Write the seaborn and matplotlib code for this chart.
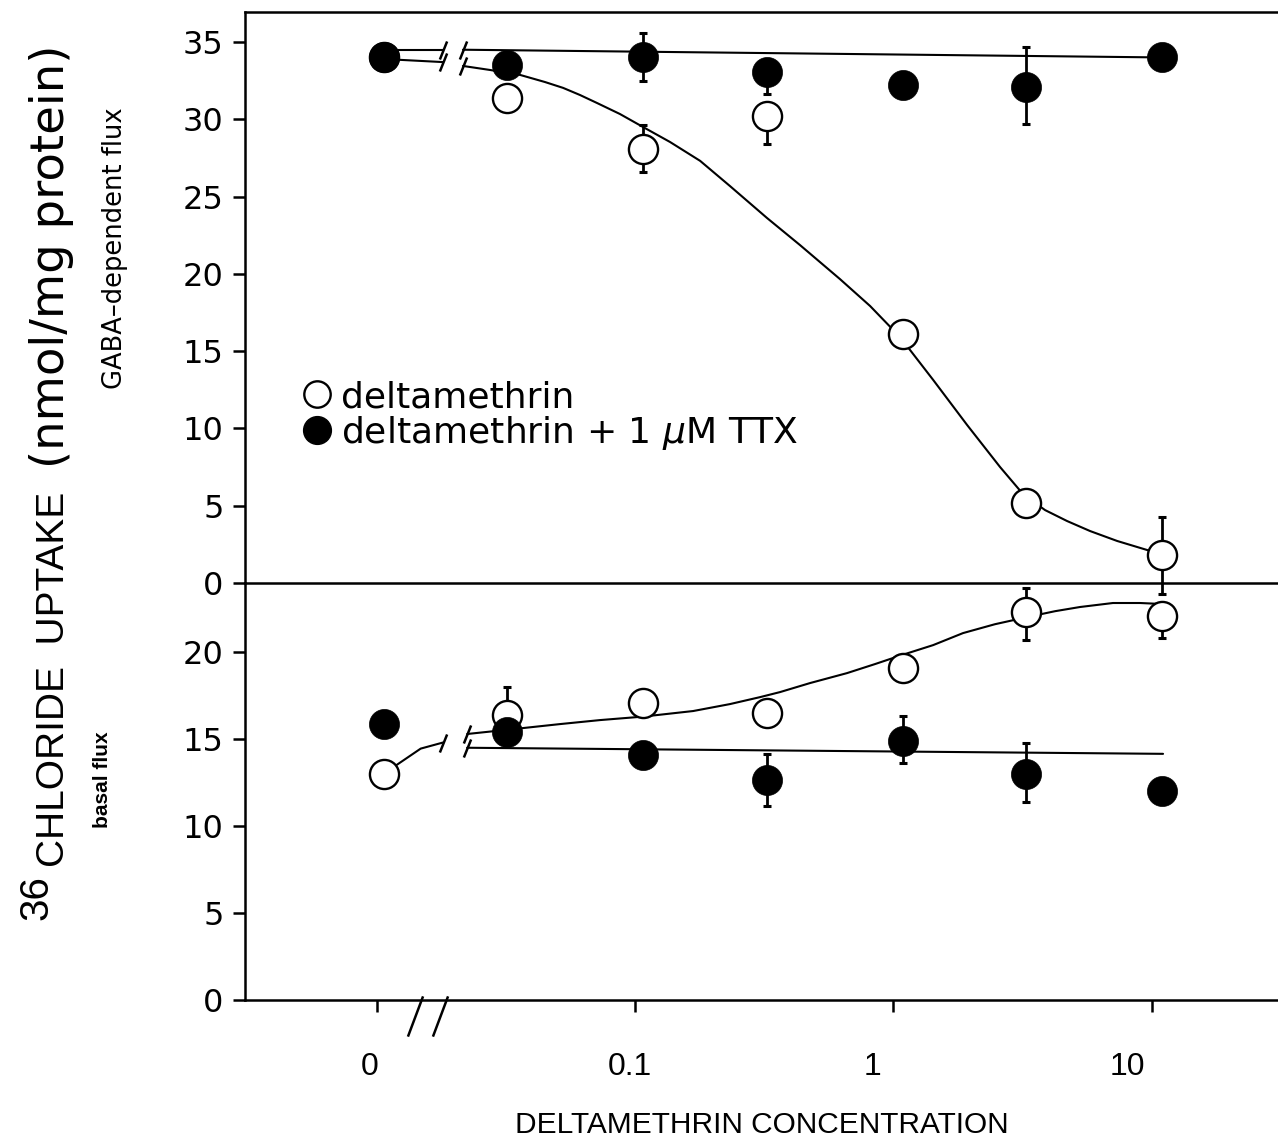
import numpy as np
import pandas as pd
import matplotlib
matplotlib.use("Agg")
import matplotlib.pyplot as plt
import matplotlib.transforms as mtrans
from matplotlib.lines import Line2D
import seaborn as sns

# ---------------- data ----------------
conc = [0, 0.03, 0.1, 0.3, 1, 3, 10]           # deltamethrin concentration
ZERO_POS = -2.0                                  # where "0" sits on the log axis

gaba_delta = [34.0, 31.4, 28.1, 30.2, 16.1, 5.2, 1.8]
gaba_delta_lo = [0, 0, 1.5, 1.8, 0, 0, 2.5]
gaba_delta_hi = [0, 0, 1.5, 0, 0, 0, 2.5]
gaba_ttx = [34.0, 33.5, 34.0, 33.05, 32.2, 32.1, 34.0]
gaba_ttx_lo = [0, 0, 1.5, 1.4, 0, 2.4, 0]
gaba_ttx_hi = [0, 0, 1.6, 0, 0, 2.6, 0]

basal_delta = [13.0, 16.4, 17.1, 16.5, 19.1, 22.3, 22.1]
basal_delta_lo = [0, 0, 0, 0, 0, 1.6, 1.3]
basal_delta_hi = [0, 1.6, 0, 0, 0, 1.4, 0]
basal_ttx = [15.85, 15.4, 14.1, 12.65, 14.9, 13.0, 12.0]
basal_ttx_lo = [0, 0, 0, 1.5, 1.3, 1.6, 0]
basal_ttx_hi = [0, 0, 0, 1.5, 1.4, 1.8, 0]

# fitted curves (log10 concentration, value)
gaba_fit_pre_x = [-2.0, -1.771]
gaba_fit_pre_y = [33.9, 33.7]
gaba_fit_x = [-1.694, -1.590, -1.474, -1.378, -1.308, -1.243, -1.177, -1.089,
              -1.000, -0.896, -0.780, -0.665, -0.522, -0.395, -0.241, -0.125,
              -0.010, 0.118, 0.249, 0.376, 0.464, 0.549, 0.634, 0.723, 0.827, 0.981]
gaba_fit_y = [33.45, 33.19, 32.87, 32.41, 32.03, 31.57, 31.05, 30.34,
              29.50, 28.53, 27.31, 25.68, 23.61, 21.86, 19.66, 17.92,
              15.92, 13.14, 10.22, 7.50, 5.76, 4.72, 4.01, 3.36, 2.72, 1.94]
gaba_ttx_fit_pre_x = [-2.0, -1.771]
gaba_ttx_fit_pre_y = [34.5, 34.5]
gaba_ttx_fit_x = [-1.694, 1.0]
gaba_ttx_fit_y = [34.5, 34.0]

basal_fit_pre_x = [-2.0, -1.857, -1.771]
basal_fit_pre_y = [13.0, 14.45, 14.8]
basal_fit_x = [-1.678, -1.532, -1.320, -1.166, -1.000, -0.807, -0.665, -0.549,
               -0.472, -0.356, -0.214, -0.106, -0.002, 0.118, 0.233, 0.356,
               0.480, 0.588, 0.684, 0.811, 0.915, 1.004]
basal_fit_y = [15.29, 15.52, 15.86, 16.09, 16.29, 16.61, 17.01, 17.41,
               17.70, 18.22, 18.79, 19.31, 19.83, 20.40, 21.09, 21.60,
               22.01, 22.35, 22.59, 22.82, 22.82, 22.76]
basal_ttx_fit_x = [-1.678, 1.004]
basal_ttx_fit_y = [14.5, 14.15]

x_tick_pos = [-2.025, -1.03, -0.035, 0.96]
x_tick_labels = ["0", "0.1", "1", "10"]
x_label_shift_px = [-7, -5, -21, -24]
top_yticks = [0, 5, 10, 15, 20, 25, 30, 35]
bot_yticks = [0, 5, 10, 15, 20]
axis_break_x = [-1.879, -1.783]

# ---------------- figure ----------------
sns.set_theme(style="white")
plt.rcParams["font.family"] = ["DejaVu Sans"]
plt.rcParams["text.color"] = "black"
plt.rcParams["axes.labelcolor"] = "black"
W, H = 1278, 1143
fig = plt.figure(figsize=(W / 100, H / 100), dpi=100)

left = 245 / W
width = 1 - left
ax_top = fig.add_axes([left, 1 - 583 / H, width, (583 - 12) / H])
ax_bot = fig.add_axes([left, 1 - 1000 / H, width, (1000 - 583) / H])
ax_top.set_zorder(2)
ax_top.patch.set_alpha(0)
ax_bot.patch.set_alpha(0)

conc_arr = np.array(conc, dtype=float)
xpos = np.where(conc_arr == 0, ZERO_POS,
                np.log10(np.where(conc_arr == 0, 1, conc_arr)))

MS = 440
LW_EDGE = 1.7
BLACK = "black"


def panel(ax, open_y, open_lo, open_hi, fill_y, fill_lo, fill_hi):
    df_o = pd.DataFrame({"x": xpos, "y": open_y})
    df_f = pd.DataFrame({"x": xpos, "y": fill_y})
    ax.errorbar(xpos, open_y, yerr=[open_lo, open_hi], fmt="none",
                ecolor=BLACK, elinewidth=2.0, capsize=2.8, capthick=2.2,
                zorder=2, clip_on=False)
    ax.errorbar(xpos, fill_y, yerr=[fill_lo, fill_hi], fmt="none",
                ecolor=BLACK, elinewidth=2.0, capsize=2.8, capthick=2.2,
                zorder=2, clip_on=False)
    sns.scatterplot(data=df_o, x="x", y="y", ax=ax, s=MS, marker="o",
                    facecolor="white", edgecolor=BLACK, linewidth=LW_EDGE,
                    zorder=4, clip_on=False, legend=False)
    sns.scatterplot(data=df_f, x="x", y="y", ax=ax, s=MS + 30, marker="o",
                    color=BLACK, edgecolor=BLACK, linewidth=0.5,
                    zorder=5, clip_on=False, legend=False)


def curve(ax, xs, ys):
    sns.lineplot(x=xs, y=ys, ax=ax, color=BLACK, linewidth=1.5, sort=False,
                 estimator=None, zorder=3, legend=False)


SLASH = [(-0.4, -1.0), (0.4, 1.0)]


def slash(ax, x, y, size=13):
    ax.plot([x], [y], linestyle="none", marker=SLASH, markersize=size,
            markeredgewidth=1.8, color=BLACK, zorder=3, clip_on=False)


# top panel: GABA-dependent flux
panel(ax_top, gaba_delta, gaba_delta_lo, gaba_delta_hi,
      gaba_ttx, gaba_ttx_lo, gaba_ttx_hi)
curve(ax_top, gaba_fit_pre_x, gaba_fit_pre_y)
curve(ax_top, gaba_fit_x, gaba_fit_y)
curve(ax_top, gaba_ttx_fit_pre_x, gaba_ttx_fit_pre_y)
curve(ax_top, gaba_ttx_fit_x, gaba_ttx_fit_y)
for xs, ys in [(gaba_fit_pre_x, gaba_fit_pre_y), (gaba_ttx_fit_pre_x, gaba_ttx_fit_pre_y)]:
    slash(ax_top, xs[-1], ys[-1])
for xs, ys in [(gaba_fit_x, gaba_fit_y), (gaba_ttx_fit_x, gaba_ttx_fit_y)]:
    slash(ax_top, xs[0], ys[0])

# bottom panel: basal flux
panel(ax_bot, basal_delta, basal_delta_lo, basal_delta_hi,
      basal_ttx, basal_ttx_lo, basal_ttx_hi)
curve(ax_bot, basal_fit_pre_x, basal_fit_pre_y)
curve(ax_bot, basal_fit_x, basal_fit_y)
curve(ax_bot, basal_ttx_fit_x, basal_ttx_fit_y)
slash(ax_bot, basal_fit_pre_x[-1], basal_fit_pre_y[-1])
slash(ax_bot, basal_fit_x[0], basal_fit_y[0])
slash(ax_bot, basal_ttx_fit_x[0], basal_ttx_fit_y[0])

# axis break on the x axis
for bx in axis_break_x:
    ax_bot.plot([bx], [-0.9], linestyle="none", marker=[(-0.375, -1), (0.375, 1)],
                markersize=29, markeredgewidth=1.8, color=BLACK, clip_on=False,
                zorder=6)

XLIM = (-2.534, 1.447)
for ax in (ax_top, ax_bot):
    ax.set_xlim(*XLIM)
    ax.set_xlabel("")
    ax.set_ylabel("")
    for s in ax.spines.values():
        s.set_linewidth(1.8)
        s.set_color(BLACK)
    ax.spines["right"].set_visible(False)
    ax.tick_params(axis="y", which="both", left=True, direction="out",
                   length=8.5, width=1.8, pad=7, labelsize=23, colors=BLACK)

ax_top.set_ylim(0, 36.94)
ax_top.set_yticks(top_yticks)
ax_top.set_xticks([])
ax_top.spines["top"].set_visible(True)

ax_bot.set_ylim(0, 23.97)
ax_bot.set_yticks(bot_yticks)
ax_bot.spines["top"].set_visible(False)
ax_bot.set_xticks(x_tick_pos)
ax_bot.set_xticklabels(x_tick_labels, family=["Liberation Sans", "DejaVu Sans"],
                       fontsize=23)
ax_bot.tick_params(axis="x", bottom=True, direction="out", length=8.5, width=1.8,
                   pad=29, colors=BLACK)
for lab, dx in zip(ax_bot.get_xticklabels(), x_label_shift_px):
    off = mtrans.ScaledTranslation(dx / 100, 0, fig.dpi_scale_trans)
    lab.set_transform(lab.get_transform() + off)

# legend
handles = [
    Line2D([], [], linestyle="none", marker="o", markersize=19,
           markerfacecolor="white", markeredgecolor=BLACK, markeredgewidth=1.7),
    Line2D([], [], linestyle="none", marker="o", markersize=20,
           markerfacecolor=BLACK, markeredgecolor=BLACK),
]
labels = ["deltamethrin", r"deltamethrin + 1 $\mu$M TTX"]
leg = ax_top.legend(handles, labels, loc="upper left",
                    bbox_to_anchor=(302 / W, 1 - 380 / H), bbox_transform=fig.transFigure,
                    frameon=False, fontsize=26, handlelength=0.85, handletextpad=0.22,
                    labelspacing=0.0, borderpad=0, borderaxespad=0)
for t in leg.get_texts():
    t.set_color(BLACK)

# axis titles
SANS = ["Liberation Sans", "DejaVu Sans"]
fig.text(762 / W, 1 - 1125 / H, "DELTAMETHRIN CONCENTRATION", ha="center",
         va="center", fontsize=21.5, family=SANS, color=BLACK)

fig.text(47 / W, 1 - 920 / H, "36", rotation=90, rotation_mode="anchor",
         ha="left", va="baseline", fontsize=29, family=SANS, color=BLACK)
fig.text(64 / W, 1 - 867 / H, "CHLORIDE  UPTAKE", rotation=90, rotation_mode="anchor",
         ha="left", va="baseline", fontsize=28, family=SANS, color=BLACK)
fig.text(64 / W, 1 - 45 / H, "(nmol/mg protein)", rotation=90, rotation_mode="anchor",
         ha="right", va="baseline", fontsize=33.5, family=["DejaVu Sans"], color=BLACK)
fig.text(115 / W, 1 - 248 / H, "GABA\u2013dependent flux", rotation=90,
         ha="center", va="center", fontsize=18.5, family=["DejaVu Sans"], color=BLACK)
fig.text(103 / W, 1 - 780 / H, "basal flux", rotation=90,
         ha="center", va="center", fontsize=15, fontweight="bold", family=SANS,
         color=BLACK)

fig.savefig("out.png", dpi=100, facecolor="white")
